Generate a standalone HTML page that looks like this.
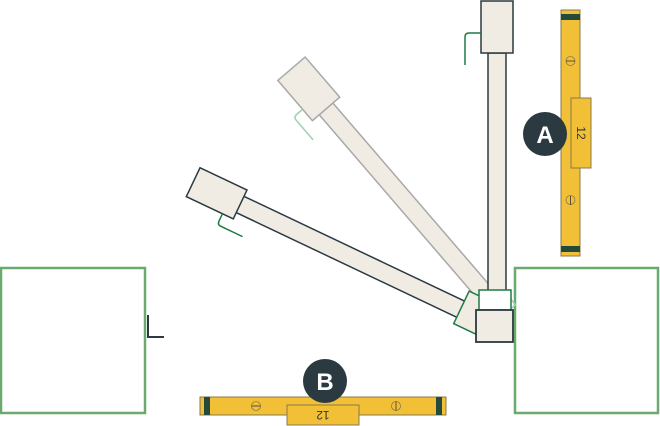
<!DOCTYPE html>
<html><head><style>html,body{margin:0;padding:0;background:#fff;width:660px;height:426px;overflow:hidden}</style></head>
<body>
<svg width="660" height="426" viewBox="0 0 660 426" xmlns="http://www.w3.org/2000/svg" font-family="Liberation Sans, sans-serif">
<!-- walls -->
<rect x="1" y="268" width="144" height="145" fill="#fff" stroke="#6aaa6e" stroke-width="2.5"/>
<rect x="515" y="268" width="143" height="145" fill="#fff" stroke="#6aaa6e" stroke-width="2.5"/>
<path d="M148 315 V337 H164" fill="none" stroke="#2b3a40" stroke-width="2"/>
<!-- middle (faded) arm -->
<g transform="translate(493,303) rotate(-40.7)">
<rect x="-9" y="-265" width="18" height="265" fill="#f0ece4" stroke="#a8a8a8" stroke-width="1.5"/>
<rect x="-18" y="-309" width="36" height="53" fill="#f0ece4" stroke="#a8a8a8" stroke-width="1.5"/>
<path d="M-18 -271 H-26 Q-30 -271 -30 -267 V-241" fill="none" stroke="#9fd0b0" stroke-width="1.5"/>
<rect x="-16" y="-12" width="32" height="28" fill="none" stroke="#9fd0b0" stroke-width="1.5"/>
</g>
<!-- lower arm -->
<g transform="translate(475,316) rotate(-64.6)">
<rect x="-9" y="-262" width="18" height="262" fill="#f0ece4" stroke="#2b3a40" stroke-width="1.5"/>
<rect x="-16" y="-312" width="32" height="52" fill="#f0ece4" stroke="#2b3a40" stroke-width="1.5"/>
<path d="M-16 -272 H-24 Q-28 -272 -28 -268 V-244" fill="none" stroke="#1f7a45" stroke-width="1.5"/>
<rect x="-16" y="-16" width="36" height="32" fill="#f0ece4" stroke="#1f7a45" stroke-width="1.5"/>
</g>
<!-- vertical arm -->
<rect x="488" y="53" width="18" height="250" fill="#f0ece4" stroke="#2b3a40" stroke-width="1.5"/>
<rect x="481" y="1" width="32" height="52" fill="#f0ece4" stroke="#2b3a40" stroke-width="1.5"/>
<path d="M481 33 H469 Q465 33 465 37 V65" fill="none" stroke="#1f7a45" stroke-width="1.5"/>
<rect x="479" y="290" width="32" height="20" fill="#fff" stroke="#1f7a45" stroke-width="1.5"/>
<rect x="476" y="310" width="37" height="32" fill="#f0ece4" stroke="#2b3a40" stroke-width="1.8"/>
<!-- level A -->
<rect x="561" y="10" width="19" height="246" fill="#f2c037" stroke="#8a7a4a" stroke-width="1"/>
<rect x="561" y="14" width="19" height="6" fill="#234a3a"/>
<rect x="561" y="246" width="19" height="6" fill="#234a3a"/>
<circle cx="570.5" cy="61" r="4.5" fill="none" stroke="#8a7a4a" stroke-width="0.8"/><line x1="566" y1="61" x2="575" y2="61" stroke="#333" stroke-width="0.8"/>
<circle cx="570.5" cy="200" r="4.5" fill="none" stroke="#8a7a4a" stroke-width="0.8"/><line x1="570.5" y1="196" x2="570.5" y2="205" stroke="#333" stroke-width="0.8"/>
<rect x="571" y="98" width="20" height="70" fill="#f2c037" stroke="#8a7a4a" stroke-width="1"/>
<text x="0" y="0" font-size="12" fill="#2b3a40" text-anchor="middle" transform="translate(577,133) rotate(90)">12</text>
<circle cx="545" cy="134" r="22" fill="#2b3a40"/>
<text x="545" y="143" font-size="24" font-weight="bold" fill="#fff" text-anchor="middle">A</text>
<!-- level B -->
<rect x="200" y="397" width="246" height="18" fill="#f2c037" stroke="#8a7a4a" stroke-width="1"/>
<rect x="204" y="397" width="6" height="18" fill="#234a3a"/>
<rect x="436" y="397" width="6" height="18" fill="#234a3a"/>
<circle cx="256" cy="406" r="4.5" fill="none" stroke="#8a7a4a" stroke-width="0.8"/><line x1="251.5" y1="406" x2="260.5" y2="406" stroke="#333" stroke-width="0.8"/>
<circle cx="396" cy="406" r="4.5" fill="none" stroke="#8a7a4a" stroke-width="0.8"/><line x1="396" y1="401.5" x2="396" y2="410.5" stroke="#333" stroke-width="0.8"/>
<rect x="287" y="405" width="72" height="20" fill="#f2c037" stroke="#8a7a4a" stroke-width="1"/>
<text x="0" y="0" font-size="12" fill="#2b3a40" text-anchor="middle" transform="translate(323,411) rotate(180)">12</text>
<circle cx="325" cy="381" r="22" fill="#2b3a40"/>
<text x="325" y="390" font-size="24" font-weight="bold" fill="#fff" text-anchor="middle">B</text>
</svg>
</body></html>
